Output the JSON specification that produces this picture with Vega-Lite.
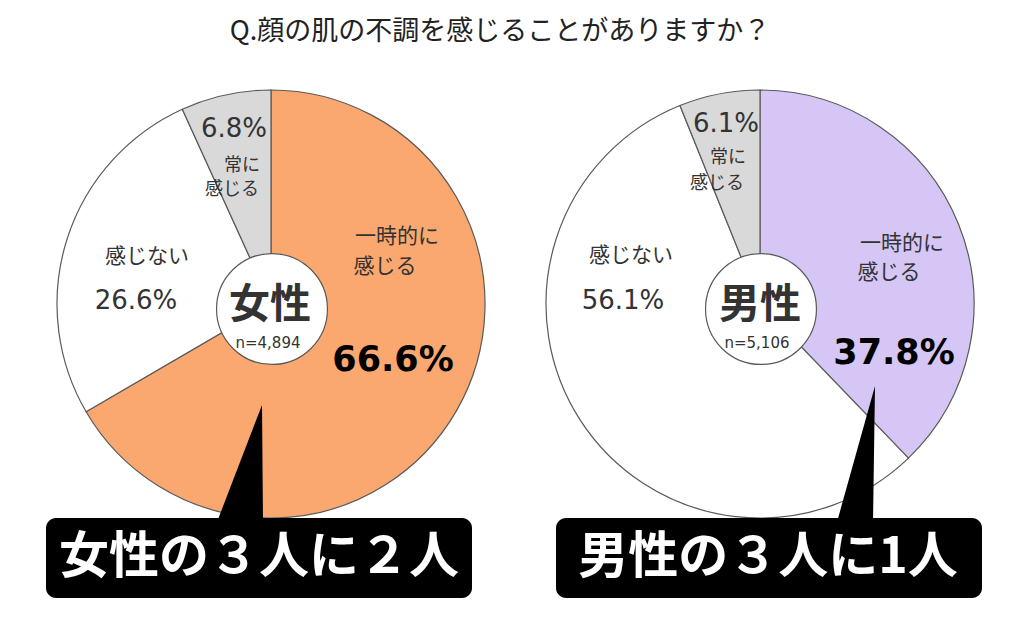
{
  "$schema": "https://vega.github.io/schema/vega-lite/v6.json",
  "width": 1024,
  "height": 630,
  "autosize": "none",
  "padding": 0,
  "background": "#ffffff",
  "config": {"view": {"stroke": null}},
  "datasets": {
    "pies": [
      {"pie": "女性", "cat": "女性・一時的に感じる", "v": 66.6, "o": 1, "cx": 271, "cy": 304},
      {"pie": "女性", "cat": "感じない", "v": 26.6, "o": 2, "cx": 271, "cy": 304},
      {"pie": "女性", "cat": "常に感じる", "v": 6.8, "o": 3, "cx": 271, "cy": 304},
      {"pie": "男性", "cat": "男性・一時的に感じる", "v": 37.8, "o": 1, "cx": 760, "cy": 304},
      {"pie": "男性", "cat": "感じない", "v": 56.1, "o": 2, "cx": 760, "cy": 304},
      {"pie": "男性", "cat": "常に感じる", "v": 6.1, "o": 3, "cx": 760, "cy": 304}
    ],
    "centers": [
      {"pie": "女性", "cx": 272, "cy": 309},
      {"pie": "男性", "cx": 761, "cy": 309}
    ],
    "pointers": [
      {"tri": "女性", "py": 405, "xa": 262, "xb": 262},
      {"tri": "女性", "py": 522, "xa": 217, "xb": 263},
      {"tri": "男性", "py": 386, "xa": 875, "xb": 875},
      {"tri": "男性", "py": 522, "xa": 837, "xb": 873}
    ],
    "boxes": [
      {"box": "女性", "bx": 46, "bx2": 472, "by": 518, "by2": 598},
      {"box": "男性", "bx": 556, "bx2": 982, "by": 518, "by2": 598}
    ],
    "texts": [
      {"k": "title", "t": "Q.顔の肌の不調を感じることがありますか？", "x": 500, "y": 32},
      {"k": "pct", "t": "6.8%", "x": 234, "y": 129},
      {"k": "pct", "t": "26.6%", "x": 136, "y": 301},
      {"k": "pct", "t": "6.1%", "x": 726, "y": 124},
      {"k": "pct", "t": "56.1%", "x": 623, "y": 301},
      {"k": "lab2", "t": "常に", "x": 242, "y": 166},
      {"k": "lab2", "t": "感じる", "x": 232, "y": 190},
      {"k": "lab", "t": "一時的に", "x": 397, "y": 237},
      {"k": "lab", "t": "感じる", "x": 385, "y": 267},
      {"k": "lab", "t": "感じない", "x": 147, "y": 257},
      {"k": "lab2", "t": "常に", "x": 728, "y": 158},
      {"k": "lab2", "t": "感じる", "x": 717, "y": 184},
      {"k": "lab", "t": "一時的に", "x": 902, "y": 244},
      {"k": "lab", "t": "感じる", "x": 889, "y": 273},
      {"k": "lab", "t": "感じない", "x": 631, "y": 256},
      {"k": "big", "t": "66.6%", "x": 393, "y": 360},
      {"k": "big", "t": "37.8%", "x": 894, "y": 353},
      {"k": "sex", "t": "女性", "x": 270, "y": 306},
      {"k": "sex", "t": "男性", "x": 760, "y": 306},
      {"k": "n", "t": "n=4,894", "x": 268, "y": 343},
      {"k": "n", "t": "n=5,106", "x": 757, "y": 343},
      {"k": "box", "t": "女性の３人に２人", "x": 259, "y": 558},
      {"k": "box", "t": "男性の３人に1人", "x": 768, "y": 558}
    ]
  },
  "layer": [
    {
      "data": {"name": "pies"},
      "transform": [
        {"stack": "v", "groupby": ["pie"], "sort": [{"field": "o", "order": "ascending"}], "as": ["t0", "t1"]}
      ],
      "mark": {"type": "arc", "outerRadius": 214, "stroke": "#5a5a5a", "strokeWidth": 1.2},
      "encoding": {
        "x": {"field": "cx", "type": "quantitative", "scale": {"domain": [0, 1024], "range": [0, 1024], "nice": false, "zero": false}, "axis": null},
        "y": {"field": "cy", "type": "quantitative", "scale": {"domain": [0, 630], "range": [0, 630], "nice": false, "zero": false}, "axis": null},
        "theta": {"field": "t0", "type": "quantitative", "scale": {"domain": [0, 100]}},
        "theta2": {"field": "t1"},
        "color": {
          "field": "cat", "type": "nominal", "legend": null,
          "scale": {
            "domain": ["女性・一時的に感じる", "男性・一時的に感じる", "感じない", "常に感じる"],
            "range": ["#FAA86F", "#D5C6F6", "#FFFFFF", "#D9D9D9"]
          }
        }
      }
    },
    {
      "data": {"name": "centers"},
      "mark": {"type": "point", "shape": "circle", "filled": true, "size": 12300, "fill": "#ffffff", "stroke": "#5a5a5a", "strokeWidth": 1.2, "opacity": 1},
      "encoding": {
        "x": {"field": "cx", "type": "quantitative"},
        "y": {"field": "cy", "type": "quantitative"}
      }
    },
    {
      "data": {"name": "pointers"},
      "mark": {"type": "area", "orient": "horizontal", "color": "#000000"},
      "encoding": {
        "y": {"field": "py", "type": "quantitative"},
        "x": {"field": "xa", "type": "quantitative"},
        "x2": {"field": "xb"},
        "detail": {"field": "tri", "type": "nominal"}
      }
    },
    {
      "data": {"name": "boxes"},
      "mark": {"type": "rect", "color": "#000000", "cornerRadius": 10},
      "encoding": {
        "x": {"field": "bx", "type": "quantitative"},
        "x2": {"field": "bx2"},
        "y": {"field": "by", "type": "quantitative"},
        "y2": {"field": "by2"}
      }
    },
    {
      "data": {"name": "texts"},
      "transform": [{"filter": "datum.k === 'title'"}],
      "mark": {"type": "text", "font": "Noto Sans CJK JP", "fontSize": 27, "letterSpacing": 2.5, "color": "#222222", "align": "center", "baseline": "middle"},
      "encoding": {"x": {"field": "x", "type": "quantitative"}, "y": {"field": "y", "type": "quantitative"}, "text": {"field": "t"}}
    },
    {
      "data": {"name": "texts"},
      "transform": [{"filter": "datum.k === 'pct'"}],
      "mark": {"type": "text", "font": "DejaVu Sans", "fontSize": 26, "color": "#333333", "align": "center", "baseline": "middle"},
      "encoding": {"x": {"field": "x", "type": "quantitative"}, "y": {"field": "y", "type": "quantitative"}, "text": {"field": "t"}}
    },
    {
      "data": {"name": "texts"},
      "transform": [{"filter": "datum.k === 'lab'"}],
      "mark": {"type": "text", "font": "Noto Sans CJK JP", "fontSize": 21, "color": "#333333", "align": "center", "baseline": "middle"},
      "encoding": {"x": {"field": "x", "type": "quantitative"}, "y": {"field": "y", "type": "quantitative"}, "text": {"field": "t"}}
    },
    {
      "data": {"name": "texts"},
      "transform": [{"filter": "datum.k === 'lab2'"}],
      "mark": {"type": "text", "font": "Noto Sans CJK JP", "fontSize": 18, "color": "#333333", "align": "center", "baseline": "middle"},
      "encoding": {"x": {"field": "x", "type": "quantitative"}, "y": {"field": "y", "type": "quantitative"}, "text": {"field": "t"}}
    },
    {
      "data": {"name": "texts"},
      "transform": [{"filter": "datum.k === 'big'"}],
      "mark": {"type": "text", "font": "DejaVu Sans", "fontWeight": "bold", "fontSize": 35, "color": "#000000", "align": "center", "baseline": "middle"},
      "encoding": {"x": {"field": "x", "type": "quantitative"}, "y": {"field": "y", "type": "quantitative"}, "text": {"field": "t"}}
    },
    {
      "data": {"name": "texts"},
      "transform": [{"filter": "datum.k === 'sex'"}],
      "mark": {"type": "text", "font": "Noto Sans CJK JP", "fontWeight": "bold", "fontSize": 41, "color": "#333333", "align": "center", "baseline": "middle"},
      "encoding": {"x": {"field": "x", "type": "quantitative"}, "y": {"field": "y", "type": "quantitative"}, "text": {"field": "t"}}
    },
    {
      "data": {"name": "texts"},
      "transform": [{"filter": "datum.k === 'n'"}],
      "mark": {"type": "text", "font": "DejaVu Sans", "fontSize": 15, "color": "#333333", "align": "center", "baseline": "middle"},
      "encoding": {"x": {"field": "x", "type": "quantitative"}, "y": {"field": "y", "type": "quantitative"}, "text": {"field": "t"}}
    },
    {
      "data": {"name": "texts"},
      "transform": [{"filter": "datum.k === 'box'"}],
      "mark": {"type": "text", "font": "Noto Sans CJK JP", "fontWeight": "bold", "fontSize": 50, "color": "#ffffff", "align": "center", "baseline": "middle"},
      "encoding": {"x": {"field": "x", "type": "quantitative"}, "y": {"field": "y", "type": "quantitative"}, "text": {"field": "t"}}
    }
  ]
}
